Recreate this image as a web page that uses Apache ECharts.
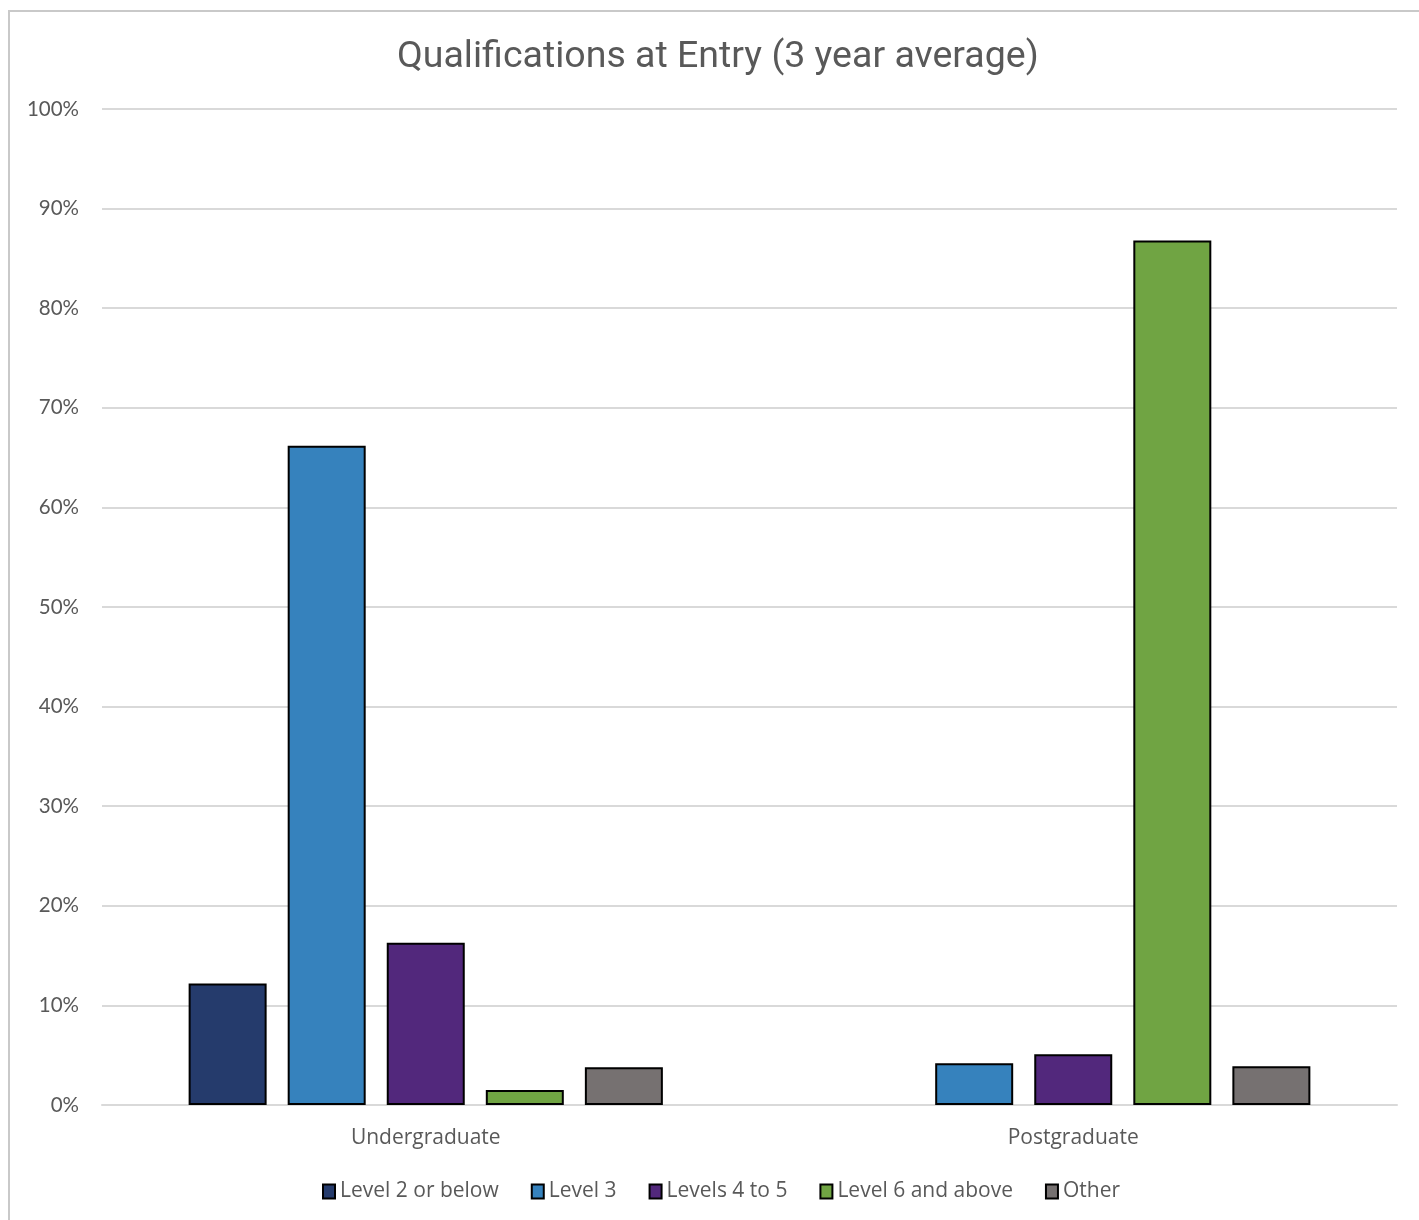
<!DOCTYPE html>
<html>
<head>
<meta charset="utf-8">
<title>Qualifications at Entry</title>
<script src="https://cdn.jsdelivr.net/npm/echarts@6/dist/echarts.min.js"></script>
<style>
  html, body { margin: 0; padding: 0; background: #ffffff; }
  #chart { width: 1419px; height: 1220px; }
</style>
</head>
<body>
<div id="chart"></div>
<script>
// Student groups on the category axis
const categories = ['Undergraduate', 'Postgraduate'];

// Share of entrants by highest qualification held (%), 3 year average
const level2OrBelow = [12.2, null];
const level3 = [66.2, 4.2];
const levels4to5 = [16.3, 5.1];
const level6AndAbove = [1.5, 86.8];
const other = [3.8, 3.9];

const yTicks = [0, 10, 20, 30, 40, 50, 60, 70, 80, 90, 100];

const seriesDefs = [
  { name: 'Level 2 or below', data: level2OrBelow, color: '#253b6c' },
  { name: 'Level 3', data: level3, color: '#3682bd' },
  { name: 'Levels 4 to 5', data: levels4to5, color: '#52287c' },
  { name: 'Level 6 and above', data: level6AndAbove, color: '#70a443' },
  { name: 'Other', data: other, color: '#767171' }
];

const chart = echarts.init(document.getElementById('chart'), null, { renderer: 'canvas' });

chart.setOption({
  backgroundColor: '#ffffff',
  animation: false,
  title: {
    text: 'Qualifications at Entry (3 year average)',
    left: 392,
    top: 34,
    textStyle: {
      fontFamily: 'Roboto',
      fontSize: 37.5,
      fontWeight: 'normal',
      color: '#595959'
    }
  },
  graphic: [{
    type: 'rect',
    silent: true,
    shape: { x: 9, y: 11, width: 1440, height: 1240 },
    style: { fill: 'none', stroke: '#c9c9c9', lineWidth: 2 },
    z: -1
  }],
  legend: {
    bottom: 13,
    left: 317,
    itemWidth: 12,
    itemHeight: 14,
    itemGap: 32,
    icon: 'rect',
    textStyle: {
      fontFamily: 'Open Sans',
      fontSize: 21,
      color: '#595959'
    },
    itemStyle: { borderColor: '#000000', borderWidth: 2 },
    data: seriesDefs.map(s => s.name)
  },
  grid: {
    left: 102,
    right: 22,
    top: 109,
    bottom: 115,
    containLabel: false
  },
  xAxis: {
    type: 'category',
    data: categories,
    axisLine: { show: true, lineStyle: { color: '#d9d9d9', width: 2 } },
    axisTick: { show: false },
    axisLabel: {
      margin: 23,
      fontFamily: 'Open Sans',
      fontSize: 21,
      color: '#595959'
    }
  },
  yAxis: {
    type: 'value',
    min: yTicks[0],
    max: yTicks[yTicks.length - 1],
    interval: 10,
    axisLine: { show: false },
    axisTick: { show: false },
    axisLabel: {
      margin: 23,
      fontFamily: 'Lato',
      fontSize: 20.5,
      color: '#595959',
      formatter: v => v + '%'
    },
    splitLine: { lineStyle: { color: '#d9d9d9', width: 2 } }
  },
  series: seriesDefs.map(s => ({
    name: s.name,
    type: 'bar',
    data: s.data,
    barWidth: 78,
    barGap: '27%',
    itemStyle: {
      color: s.color,
      borderColor: '#000000',
      borderWidth: 2
    }
  }))
});
</script>
</body>
</html>
